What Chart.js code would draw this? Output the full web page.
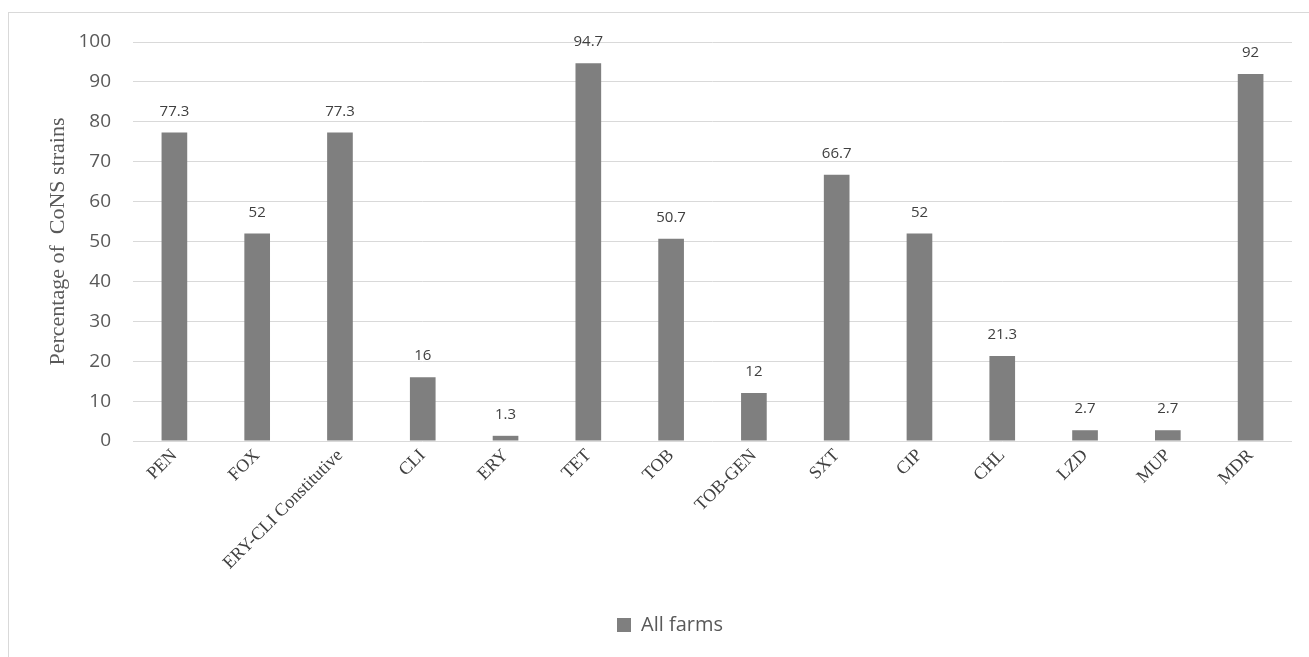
<!DOCTYPE html>
<html>
<head>
<meta charset="utf-8">
<title>Percentage of CoNS strains</title>
<script src="https://cdn.jsdelivr.net/npm/chart.js@4.4.0/dist/chart.umd.min.js"></script>
<style>
  html, body { margin: 0; padding: 0; background: #fff; overflow: hidden; }
  #frame {
    position: absolute; left: 8px; top: 12px;
    width: 1330px; height: 680px;
    border: 1px solid #d9d9d9;
  }
  #chart { position: absolute; left: 0; top: 0; }
</style>
</head>
<body>
<div id="frame"></div>
<canvas id="chart" width="1309" height="657"></canvas>
<script>
// data
const drugs = ['PEN', 'FOX', 'ERY-CLI Constitutive', 'CLI', 'ERY', 'TET', 'TOB',
    'TOB-GEN', 'SXT', 'CIP', 'CHL', 'LZD', 'MUP', 'MDR'];
const allFarms = [77.3, 52, 77.3, 16, 1.3, 94.7, 50.7, 12, 66.7, 52, 21.3, 2.7, 2.7, 92];
const yTicks = [0, 10, 20, 30, 40, 50, 60, 70, 80, 90, 100];

// value labels above the bars
const barValues = {
    id: 'barValues',
    afterDatasetsDraw(chart) {
        const ctx = chart.ctx;
        const meta = chart.getDatasetMeta(0);
        ctx.save();
        ctx.font = '15px "Open Sans"';
        ctx.fillStyle = '#404040';
        ctx.textAlign = 'center';
        ctx.textBaseline = 'alphabetic';
        meta.data.forEach(function (bar, i) {
            ctx.fillText(String(allFarms[i]), bar.x, bar.y - 17);
        });
        ctx.restore();
    }
};

// legend in the picture sits a bit right of the canvas centre
const nudgeLegend = {
    id: 'nudgeLegend',
    afterLayout(chart) {
        chart.legend.left += 24;
        chart.legend.right += 24;
    }
};

new Chart(document.getElementById('chart'), {
    type: 'bar',
    data: {
        labels: drugs,
        datasets: [{
            label: 'All farms',
            data: allFarms,
            backgroundColor: '#7f7f7f',
            barPercentage: 0.62,
            categoryPercentage: 0.5
        }]
    },
    options: {
        responsive: false,
        animation: false,
        layout: { padding: { left: 0, right: 17, top: 42, bottom: 12 } },
        scales: {
            x: {
                grid: { display: false, drawTicks: false },
                border: { display: false },
                ticks: {
                    autoSkip: false,
                    maxRotation: 45,
                    minRotation: 45,
                    padding: 4,
                    color: '#404040',
                    font: { family: '"Liberation Serif", "Times New Roman", serif', size: 18 }
                },
                afterFit(scale) { scale.height = 164; }
            },
            y: {
                min: 0,
                max: 100,
                afterBuildTicks(scale) {
                    scale.ticks = yTicks.map(v => ({ value: v }));
                },
                grid: { color: '#d9d9d9', lineWidth: 1, drawTicks: false },
                border: { display: false },
                ticks: {
                    padding: 22,
                    color: '#595959',
                    font: { family: '"Open Sans", sans-serif', size: 19 }
                },
                title: {
                    display: true,
                    text: 'Percentage of  CoNS strains',
                    color: '#595959',
                    padding: { top: 45, bottom: 0 },
                    font: { family: '"Liberation Serif", "Times New Roman", serif', size: 22 }
                },
                afterFit(scale) { scale.width = 133; }
            }
        },
        plugins: {
            legend: {
                position: 'bottom',
                labels: {
                    boxWidth: 14,
                    boxHeight: 14,
                    padding: 10,
                    color: '#595959',
                    font: { family: '"Open Sans", sans-serif', size: 20 }
                }
            },
            tooltip: { enabled: false }
        }
    },
    plugins: [barValues, nudgeLegend]
});
</script>
</body>
</html>
